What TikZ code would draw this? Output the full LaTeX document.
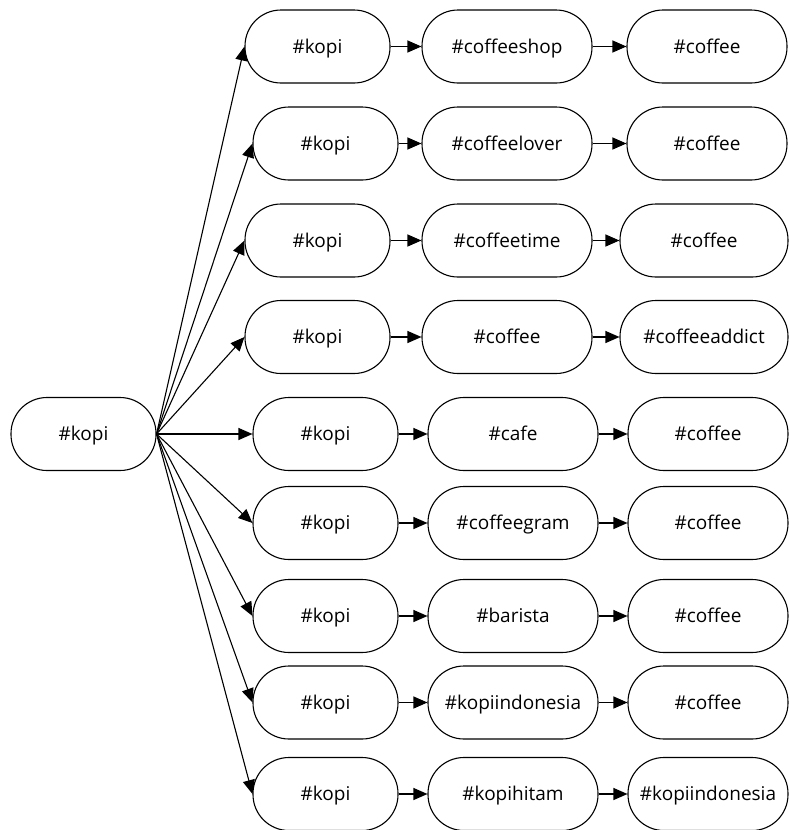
\documentclass[tikz,border=0pt]{standalone}
\usepackage{fontspec}
\setmainfont{Open Sans}
\usetikzlibrary{arrows.meta}
\tikzset{
  pill/.style={draw=black, line width=1.1pt, rounded corners=36pt, minimum height=73pt, inner sep=0pt, text height=15pt, text depth=1.5pt, font=\fontsize{19}{23}\selectfont, text=black},
  arr/.style={line width=1.1pt, -{Triangle[length=14pt,width=12pt]}},
}
\begin{document}
\begin{tikzpicture}[x=1pt,y=-1pt]
\useasboundingbox (0,0) rectangle (788,830);
\node[pill, minimum width=145pt] (root) at (83.5,434) {\#kopi};
% row 1
\node[pill, minimum width=145pt] (a1) at (317.5,46.5) {\#kopi};
\node[pill, minimum width=170pt] (b1) at (507,46.5) {\#coffeeshop};
\node[pill, minimum width=160pt] (c1) at (707,46.5) {\#coffee};
% row 2
\node[pill, minimum width=145pt] (a2) at (325.5,143.5) {\#kopi};
\node[pill, minimum width=170pt] (b2) at (507,143.5) {\#coffeelover};
\node[pill, minimum width=160pt] (c2) at (707,143.5) {\#coffee};
% row 3
\node[pill, minimum width=145pt] (a3) at (317.5,240.5) {\#kopi};
\node[pill, minimum width=170pt] (b3) at (507,240.5) {\#coffeetime};
\node[pill, minimum width=168pt] (c3) at (704,240.5) {\#coffee};
% row 4
\node[pill, minimum width=145pt] (a4) at (317.5,337) {\#kopi};
\node[pill, minimum width=170pt] (b4) at (507,337) {\#coffee};
\node[pill, minimum width=168pt] (c4) at (704,337) {\#coffeeaddict};
% row 5
\node[pill, minimum width=145pt] (a5) at (325.5,434) {\#kopi};
\node[pill, minimum width=170pt] (b5) at (513,434) {\#cafe};
\node[pill, minimum width=160pt] (c5) at (708,434) {\#coffee};
% row 6
\node[pill, minimum width=145pt] (a6) at (325.5,523) {\#kopi};
\node[pill, minimum width=170pt] (b6) at (513,523) {\#coffeegram};
\node[pill, minimum width=160pt] (c6) at (708,523) {\#coffee};
% row 7
\node[pill, minimum width=145pt] (a7) at (325.5,616) {\#kopi};
\node[pill, minimum width=170pt] (b7) at (513,616) {\#barista};
\node[pill, minimum width=160pt] (c7) at (708,616) {\#coffee};
% row 8
\node[pill, minimum width=145pt] (a8) at (325.5,702.5) {\#kopi};
\node[pill, minimum width=170pt] (b8) at (513,702.5) {\#kopiindonesia};
\node[pill, minimum width=160pt] (c8) at (708,702.5) {\#coffee};
% row 9
\node[pill, minimum width=145pt] (a9) at (325.5,794) {\#kopi};
\node[pill, minimum width=170pt] (b9) at (513,794) {\#kopihitam};
\node[pill, minimum width=160pt] (c9) at (708,794) {\#kopiindonesia};
\foreach \i in {1,...,9}{
  \draw[arr] (root.east) -- (a\i.west);
  \draw[arr] (a\i.east) -- (b\i.west);
  \draw[arr] (b\i.east) -- (c\i.west);
}
\end{tikzpicture}
\end{document}
